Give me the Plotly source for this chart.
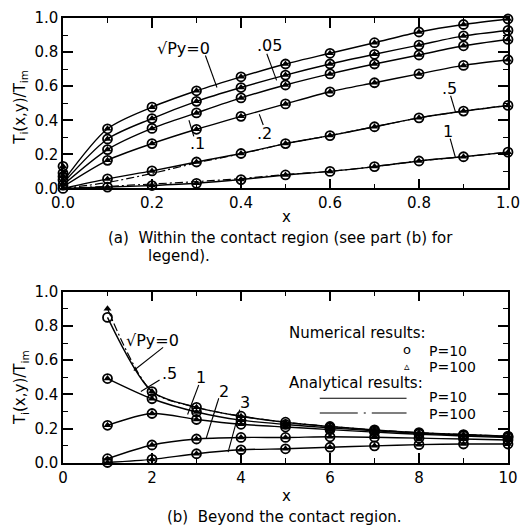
import plotly.graph_objects as go

# ---------------- Part (a): within the contact region ----------------
xa = [0.1, 0.2, 0.3, 0.4, 0.5, 0.6, 0.7, 0.8, 0.9, 1.0]
xa_line = [0.0] + xa
a_y0 = [0.35, 0.477, 0.573, 0.655, 0.73, 0.793, 0.855, 0.918, 0.962, 0.994]
a_y005 = [0.29, 0.41, 0.511, 0.592, 0.665, 0.73, 0.787, 0.841, 0.895, 0.927]
a_y01 = [0.228, 0.352, 0.443, 0.531, 0.607, 0.672, 0.73, 0.783, 0.837, 0.874]
a_y02 = [0.165, 0.263, 0.347, 0.423, 0.496, 0.567, 0.62, 0.672, 0.722, 0.755]
a_y05 = [0.056, 0.103, 0.155, 0.205, 0.263, 0.31, 0.362, 0.414, 0.454, 0.487]
a_y1 = [0.008, 0.017, 0.03, 0.052, 0.079, 0.1, 0.128, 0.161, 0.186, 0.213]
a_start = [0.04, 0.03, 0.02, 0.01, 0.0, 0.0]      # line values at x=0
a_x0_marks = [0.13, 0.09, 0.07, 0.05, 0.02, 0.0]  # markers at x=0
a_y05_p100 = [0.0, 0.035, 0.088, 0.15, 0.203, 0.263, 0.31, 0.362, 0.414, 0.454, 0.487]
a_y1_p100 = [0.0, 0.012, 0.026, 0.04, 0.058, 0.082, 0.1, 0.128, 0.161, 0.186, 0.213]

# ---------------- Part (b): beyond the contact region ----------------
xb = [1, 2, 3, 4, 5, 6, 7, 8, 9, 10]
b_y0_p10 = [0.85, 0.417, 0.325, 0.273, 0.238, 0.213, 0.193, 0.177, 0.166, 0.157]
b_y0_p100 = [0.90, 0.417, 0.325, 0.273, 0.238, 0.213, 0.193, 0.177, 0.166, 0.157]
b_y05 = [0.493, 0.375, 0.298, 0.25, 0.225, 0.205, 0.188, 0.173, 0.163, 0.153]
b_y1 = [0.22, 0.289, 0.254, 0.226, 0.21, 0.195, 0.18, 0.168, 0.158, 0.148]
b_y2 = [0.025, 0.105, 0.14, 0.149, 0.149, 0.153, 0.15, 0.145, 0.14, 0.134]
b_y3 = [0.003, 0.021, 0.054, 0.077, 0.083, 0.092, 0.1, 0.107, 0.111, 0.111]

FONT = "DejaVu Sans"
TXT = 15
LEG = 14
fig = go.Figure()

line_style = dict(color="black", width=1.4, shape="spline", smoothing=0.8)
dd_style = dict(color="black", width=1.2, dash="8px,3px,2px,3px", shape="spline", smoothing=0.8)


def add_marks(x, y, xref, yref):
    fig.add_trace(go.Scatter(x=x, y=y, mode="markers", xaxis=xref, yaxis=yref,
                             marker=dict(symbol="triangle-up", size=7, color="black"),
                             cliponaxis=False, showlegend=False, hoverinfo="skip"))
    fig.add_trace(go.Scatter(x=x, y=y, mode="markers", xaxis=xref, yaxis=yref,
                             marker=dict(symbol="circle-open", size=9, color="black",
                                         line=dict(width=1.8, color="black")),
                             cliponaxis=False, showlegend=False, hoverinfo="skip"))


a_series = [a_y0, a_y005, a_y01, a_y02, a_y05, a_y1]
for s0, ys in zip(a_start, a_series):
    fig.add_trace(go.Scatter(x=xa_line, y=[s0] + ys, mode="lines", xaxis="x", yaxis="y",
                             line=line_style, showlegend=False, hoverinfo="skip"))
for ys in [a_y05_p100, a_y1_p100]:
    fig.add_trace(go.Scatter(x=xa_line, y=ys, mode="lines", xaxis="x", yaxis="y",
                             line=dd_style, showlegend=False, hoverinfo="skip"))
for ys in a_series:
    add_marks(xa, ys, "x", "y")
add_marks([0.0] * len(a_x0_marks), a_x0_marks, "x", "y")

b_series = [b_y0_p10, b_y05, b_y1, b_y2, b_y3]
for ys in b_series:
    fig.add_trace(go.Scatter(x=xb, y=ys, mode="lines", xaxis="x2", yaxis="y2",
                             line=line_style, showlegend=False, hoverinfo="skip"))
fig.add_trace(go.Scatter(x=xb, y=b_y0_p100, mode="lines", xaxis="x2", yaxis="y2",
                         line=dd_style, showlegend=False, hoverinfo="skip"))
for ys in [b_y05, b_y1, b_y2, b_y3]:
    add_marks(xb, ys, "x2", "y2")
fig.add_trace(go.Scatter(x=xb, y=b_y0_p100, mode="markers", xaxis="x2", yaxis="y2",
                         marker=dict(symbol="triangle-up", size=7, color="black"),
                         cliponaxis=False, showlegend=False, hoverinfo="skip"))
fig.add_trace(go.Scatter(x=xb, y=b_y0_p10, mode="markers", xaxis="x2", yaxis="y2",
                         marker=dict(symbol="circle-open", size=9, color="black",
                                     line=dict(width=1.8, color="black")),
                         cliponaxis=False, showlegend=False, hoverinfo="skip"))

annotations = []
shapes = []


def label(text, x, y, xr, yr, size=16, anchor="center"):
    annotations.append(dict(text=text, x=x, y=y, xref=xr, yref=yr, showarrow=False,
                            xanchor=anchor, yanchor="middle",
                            font=dict(family=FONT, size=size, color="black")))


def leader(x0, y0, x1, y1, xr, yr):
    shapes.append(dict(type="line", x0=x0, y0=y0, x1=x1, y1=y1, xref=xr, yref=yr,
                       line=dict(color="black", width=1.1)))


# Part (a) curve labels
label("√Py=0", 0.27, 0.82, "x", "y")
leader(0.32, 0.78, 0.346, 0.592, "x", "y")
label(".05", 0.465, 0.84, "x", "y")
leader(0.458, 0.79, 0.48, 0.634, "x", "y")
label(".1", 0.302, 0.262, "x", "y")
leader(0.294, 0.305, 0.283, 0.40, "x", "y")
label(".2", 0.452, 0.322, "x", "y")
leader(0.45, 0.372, 0.441, 0.435, "x", "y")
label(".5", 0.868, 0.585, "x", "y")
leader(0.871, 0.544, 0.882, 0.448, "x", "y")
label("1", 0.865, 0.336, "x", "y")
leader(0.87, 0.292, 0.882, 0.18, "x", "y")

# Part (b) curve labels
label("√Py=0", 2.02, 0.715, "x2", "y2")
leader(2.25, 0.675, 1.59, 0.54, "x2", "y2")
label(".5", 2.4, 0.52, "x2", "y2")
leader(2.17, 0.484, 1.75, 0.417, "x2", "y2")
label("1", 3.1, 0.5, "x2", "y2")
leader(3.05, 0.455, 2.8, 0.283, "x2", "y2")
label("2", 3.62, 0.42, "x2", "y2")
leader(3.5, 0.378, 3.22, 0.146, "x2", "y2")
label("3", 4.1, 0.355, "x2", "y2")
leader(3.97, 0.312, 3.71, 0.063, "x2", "y2")

# Part (b) legend
label("Numerical results:", 5.04, 0.758, "x2", "y2", TXT, "left")
label("o", 7.72, 0.66, "x2", "y2", 13)
label("P=10", 8.19, 0.655, "x2", "y2", LEG, "left")
label("▵", 7.72, 0.566, "x2", "y2", 11)
label("P=100", 8.19, 0.558, "x2", "y2", LEG, "left")
label("Analytical results:", 5.04, 0.466, "x2", "y2", TXT, "left")
label("P=10", 8.19, 0.383, "x2", "y2", LEG, "left")
label("P=100", 8.19, 0.287, "x2", "y2", LEG, "left")
shapes.append(dict(type="line", x0=5.77, x1=7.72, y0=0.378, y1=0.378, xref="x2", yref="y2",
                   line=dict(color="black", width=1.2)))
shapes.append(dict(type="line", x0=5.77, x1=7.72, y0=0.292, y1=0.292, xref="x2", yref="y2",
                   line=dict(color="black", width=1.2, dash="38px,6px,2px,6px")))

# axis titles and captions (paper coords)
ytitle = "T<sub>i</sub>(x,y)/T<sub>im</sub>"
for yc in [0.80, 0.17]:
    annotations.append(dict(text=ytitle, x=-0.095, y=yc, xref="paper", yref="paper",
                            xanchor="center", yanchor="middle",
                            showarrow=False, textangle=-90,
                            font=dict(family=FONT, size=TXT, color="black")))
label("x", 0.502, 0.553, "paper", "paper", TXT)
label("x", 0.502, -0.075, "paper", "paper", TXT)
label("(a)  Within the contact region (see part (b) for", (107 - 63) / 454, 0.505,
      "paper", "paper", TXT, "left")
label("legend).", (148 - 63) / 454, 0.465, "paper", "paper", TXT, "left")
label("(b)  Beyond the contact region.", (167 - 63) / 454, -0.121, "paper", "paper", TXT, "left")

axis_common = dict(showline=True, linecolor="black", linewidth=1.5, mirror="ticks",
                   ticks="inside", ticklen=10, tickwidth=1.5, tickcolor="black",
                   showgrid=False, zeroline=False,
                   tickfont=dict(family=FONT, size=TXT, color="black"))

fig.update_layout(
    width=529, height=528,
    margin=dict(l=63, r=12, t=9, b=65),
    paper_bgcolor="white", plot_bgcolor="white",
    showlegend=False,
    xaxis=dict(domain=[0, 1], range=[0, 1], tickvals=[0, 0.2, 0.4, 0.6, 0.8, 1.0],
               tickformat=".1f", anchor="y",
               minor=dict(ticks="inside", ticklen=5, tickwidth=1, dtick=0.1, tickcolor="black"),
               **axis_common),
    yaxis=dict(domain=[0.617, 1.0], range=[0, 1], tickvals=[0, 0.2, 0.4, 0.6, 0.8, 1.0],
               tickformat=".1f", anchor="x",
               minor=dict(ticks="inside", ticklen=5, tickwidth=1, dtick=0.1, tickcolor="black"),
               **axis_common),
    xaxis2=dict(domain=[0, 1], range=[0, 10], tickvals=[0, 2, 4, 6, 8, 10], anchor="y2",
                minor=dict(ticks="inside", ticklen=5, tickwidth=1, dtick=1, tickcolor="black"),
                **axis_common),
    yaxis2=dict(domain=[0, 0.385], range=[0, 1], tickvals=[0, 0.2, 0.4, 0.6, 0.8, 1.0],
                tickformat=".1f", anchor="x2",
                minor=dict(ticks="inside", ticklen=5, tickwidth=1, dtick=0.1, tickcolor="black"),
                **axis_common),
    annotations=annotations,
    shapes=shapes,
)

fig.write_html("out.html")
